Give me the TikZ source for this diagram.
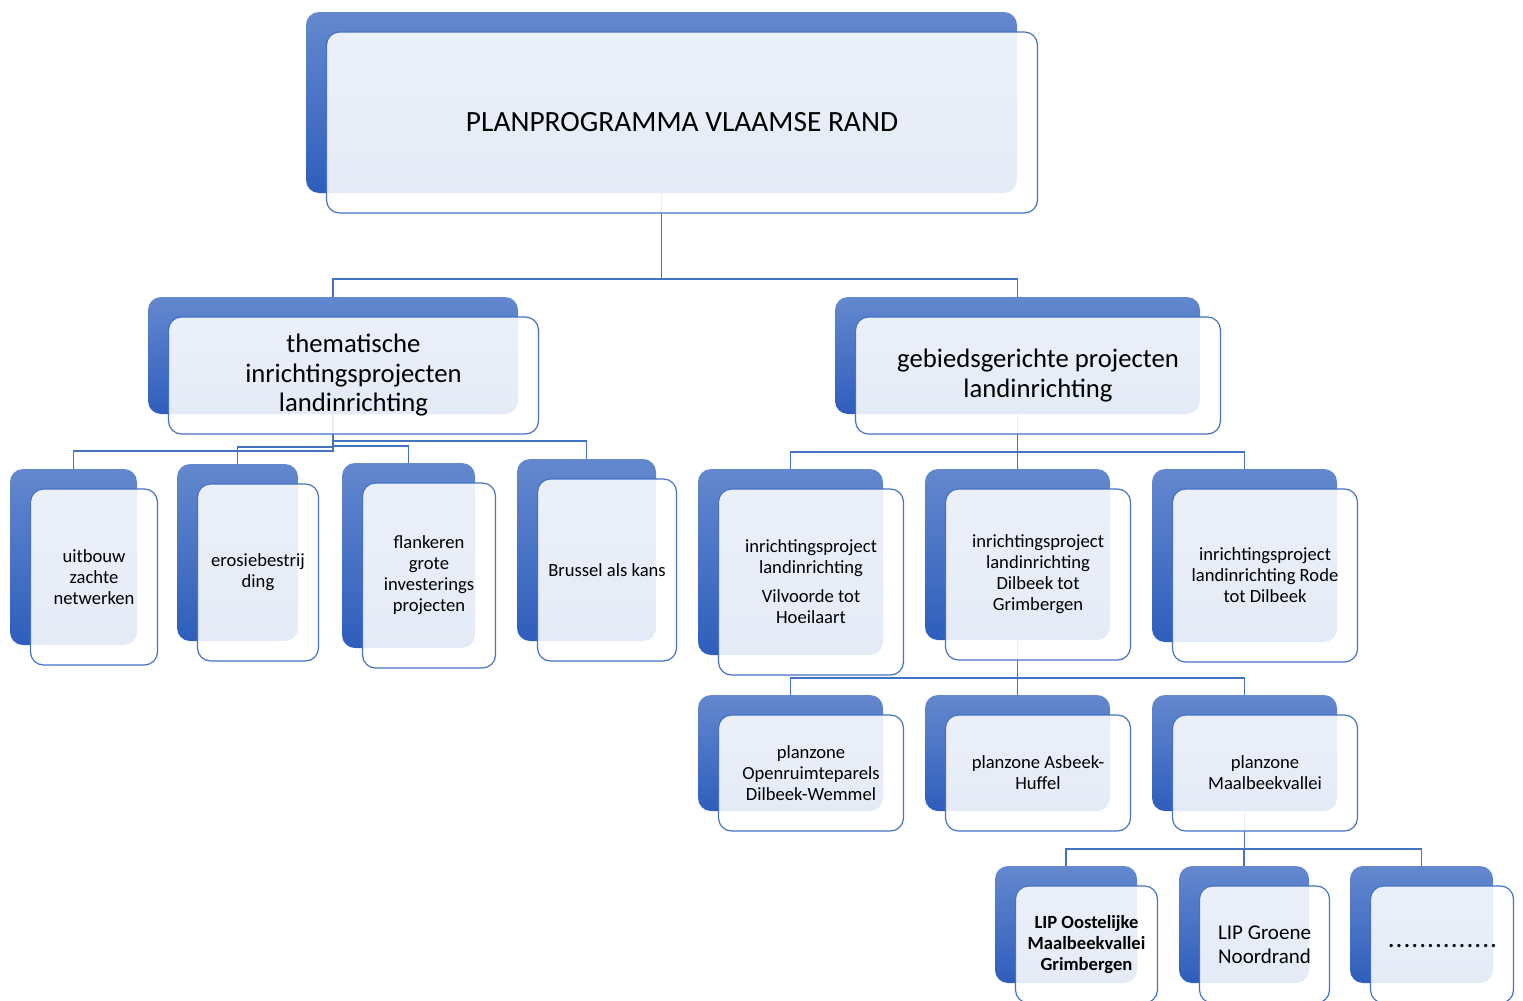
\documentclass[tikz,border=0pt]{standalone}
\usepackage{fontspec}
\setmainfont{Carlito}
\definecolor{PBlight}{HTML}{6488CE}
\definecolor{PBdark}{HTML}{2E5EBC}
\definecolor{PBline}{HTML}{4472C4}
\usetikzlibrary{backgrounds}
\newcommand{\titlesize}{\fontsize{29.4}{34}\selectfont}
\newcommand{\midsize}{\fontsize{26.7}{29.5}\selectfont}
\newcommand{\lipsize}{\fontsize{21}{24}\selectfont}
\newcommand{\boxsize}{\fontsize{18.6}{21}\selectfont}
\newcommand{\dotrow}{\hspace*{3pt}\raisebox{-7pt}{\foreach \k in {1, ..., 14} {.\kern2pt}}}

\begin{document}
\begin{tikzpicture}[x=1pt, y=-1pt]

    \tikzset{%
        link/.style={draw=PBline, line width=1.3pt},
        backbox/.style={rounded corners=13pt, top color=PBlight, bottom color=PBdark,
                inner sep=0pt, outer sep=0pt},
        frontbox/.style={rounded corners=13pt, draw=PBline, line width=1.2pt,
                fill=white, fill opacity=0.88, text opacity=1, align=center,
                inner sep=0pt, outer sep=0pt},
        pics/planbox/.style args={#1/#2/#3/#4}{%
                code={%
                        \node [backbox, minimum width=#1pt, minimum height=#2pt] (-b) at (0, 0) {};
                        \node [frontbox, minimum width=#1pt, minimum height=#2pt, font=#3] (-f) at (20.5, 20) {#4};
                    }
            }
    }

    \useasboundingbox (0, 0) rectangle (1523, 1001);
    \clip (0, 0) rectangle (1523, 1001);

    \pic (top) at (661.5, 102.5) {planbox=711/181/\titlesize/PLANPROGRAMMA VLAAMSE RAND};

    \pic (thema) at (333, 355.5) {planbox=370/117/\midsize/thematische\\inrichtingsprojecten\\landinrichting};
    \pic (gebied) at (1017.5, 355.5) {planbox=365/117/\midsize/gebiedsgerichte projecten\\landinrichting};

    \pic (uitbouw) at (73.5, 557) {planbox=127/176/\boxsize/uitbouw\\zachte\\netwerken};
    \pic (erosie) at (237.5, 552.5) {planbox=121/177/\boxsize/erosiebestrij\\ding};
    \pic (flank) at (408.5, 555.5) {planbox=133/185/\boxsize/flankeren\\grote\\investerings\\projecten};
    \pic (brussel) at (586.5, 550) {planbox=139/182/\boxsize/Brussel als kans};

    \pic (vilv) at (790.5, 562) {planbox=185/186/\boxsize/inrichtingsproject\\landinrichting\\[8pt]Vilvoorde tot\\Hoeilaart};
    \pic (dilb) at (1017.5, 554.5) {planbox=185/171/\boxsize/inrichtingsproject\\landinrichting\\Dilbeek tot\\Grimbergen};
    \pic (rode) at (1244.5, 555.5) {planbox=185/173/\boxsize/inrichtingsproject\\landinrichting Rode\\tot Dilbeek};

    \pic (openr) at (790.5, 753) {planbox=185/116/\boxsize/planzone\\Openruimteparels\\Dilbeek-Wemmel};
    \pic (asbeek) at (1017.5, 753) {planbox=185/116/\boxsize/planzone Asbeek-\\Huffel};
    \pic (maal) at (1244.5, 753) {planbox=185/116/\boxsize/planzone\\Maalbeekvallei};

    \pic (lipoost) at (1066, 924.5) {planbox=142/117/\boxsize\bfseries/LIP Oostelijke\\Maalbeekvallei\\Grimbergen};
    \pic (lipgroen) at (1244, 924.5) {planbox=130/117/\lipsize/LIP Groene\\Noordrand};
    \pic (lipmeer) at (1421.5, 924.5) {planbox=143/117/\fontsize{22}{24}\selectfont\bfseries/\dotrow};

    % connectors
    \begin{scope}[on background layer]
        \draw [link] (top-b.south) -- ++(0, 86) -| (thema-b.north);
        \draw [link] (top-b.south) -- ++(0, 86) -| (gebied-b.north);

        \draw [link] (thema-b.south) -- ++(0, 37) -| (uitbouw-b.north);
        \draw [link] (thema-b.south) -- ++(0, 33) -| (erosie-b.north);
        \draw [link] (thema-b.south) -- ++(0, 32) -| (flank-b.north);
        \draw [link] (thema-b.south) -- ++(0, 27) -| (brussel-b.north);

        \foreach \kind in {vilv, dilb, rode} {
                \draw [link] (gebied-b.south) -- ++(0, 38) -| (\kind-b.north);
            }
        \foreach \kind in {openr, asbeek, maal} {
                \draw [link] (dilb-b.south) -- ++(0, 38) -| (\kind-b.north);
            }
        \foreach \kind in {lipoost, lipgroen, lipmeer} {
                \draw [link] (maal-b.south) -- ++(0, 38) -| (\kind-b.north);
            }
    \end{scope}

\end{tikzpicture}
\end{document}
